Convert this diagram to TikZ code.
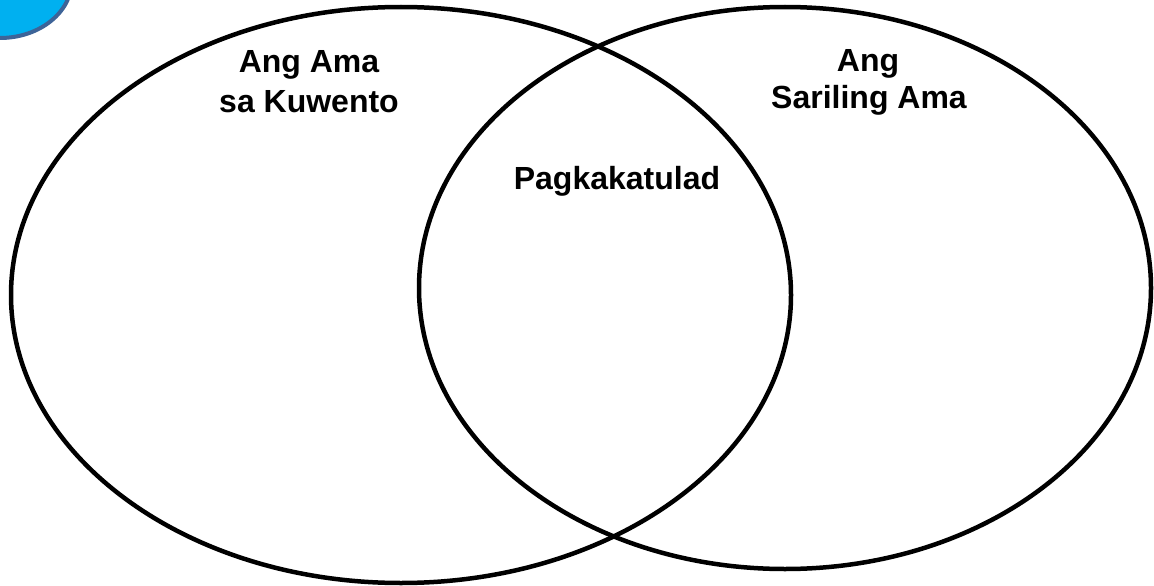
\documentclass[tikz,border=0pt]{standalone}
\usepackage{fontspec}
\setmainfont{Liberation Sans}
\begin{document}
\begin{tikzpicture}[x=1pt,y=-1pt,
  venn/.style={draw=black,line width=4.5pt},
  lbl/.style={anchor=base,inner sep=0pt,font=\fontsize{32}{38}\selectfont\bfseries}]
\useasboundingbox (0,0) rectangle (1154,586);
\begin{scope}
\clip (0,0) rectangle (1154,586);
\draw[fill={rgb,255:red,0;green,176;blue,240},draw={rgb,255:red,61;green,100;blue,152},line width=4pt] (0,-20) ellipse [x radius=72,y radius=58];
\end{scope}
\draw[venn] (401,295) ellipse [x radius=390,y radius=288];
\draw[venn] (785,288) ellipse [x radius=366,y radius=281];
\node[lbl] (l1) at (309,73) {Ang Ama};
\node[lbl] (l2) at (309,112) {sa Kuwento};
\node[lbl] (r1) at (868,72) {Ang};
\node[lbl] (r2) at (869,108) {Sariling Ama};
\node[lbl] (m) at (617,189) {Pagkakatulad};
\end{tikzpicture}
\end{document}
